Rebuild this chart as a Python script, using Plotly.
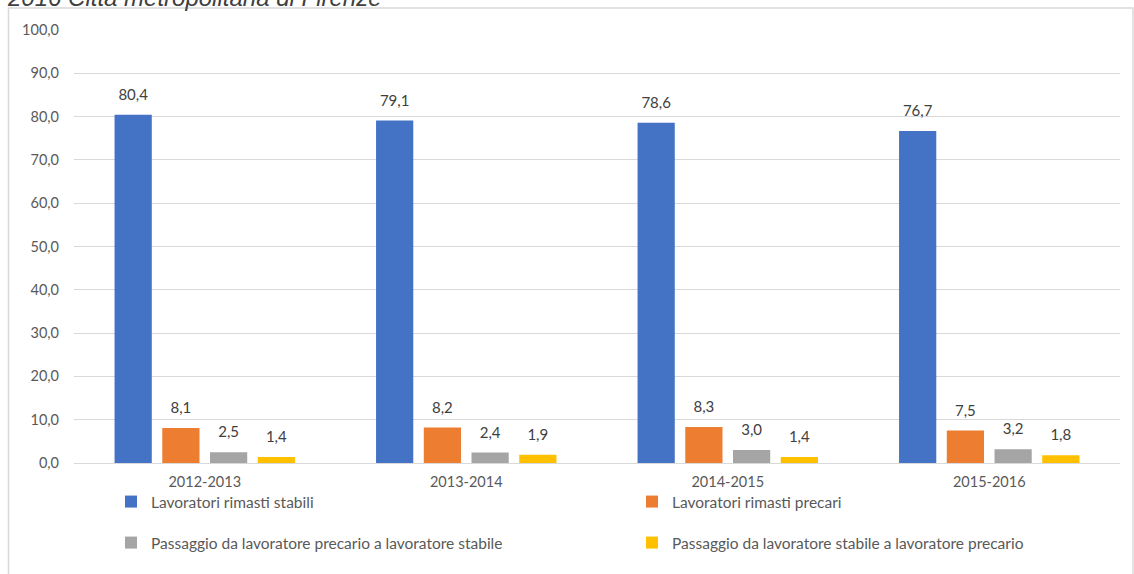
import plotly.graph_objects as go

periods = ["2012-2013", "2013-2014", "2014-2015", "2015-2016"]
series_names = [
    "Lavoratori rimasti stabili",
    "Lavoratori rimasti precari",
    "Passaggio da lavoratore precario a lavoratore stabile",
    "Passaggio da lavoratore stabile a lavoratore precario",
]
stabili = [80.4, 79.1, 78.6, 76.7]
precari = [8.1, 8.2, 8.3, 7.5]
prec_to_stab = [2.5, 2.4, 3.0, 3.2]
stab_to_prec = [1.4, 1.9, 1.4, 1.8]
colors = ["#4472C4", "#ED7D31", "#A5A5A5", "#FFC000"]
legend_ids = ["legend", "legend", "legend2", "legend2"]
y_ticks = [0, 10, 20, 30, 40, 50, 60, 70, 80, 90, 100]
title_text = "2016 Città metropolitana di Firenze"

FONT = "Lato, 'Liberation Sans', sans-serif"
W, H = 1134, 574
L, R, T, B = 74, 14, 30, 111
pw, ph = W - L - R, H - T - B
BARGAP = 0.27

fig = go.Figure()
all_vals = [stabili, precari, prec_to_stab, stab_to_prec]
for name, vals, col, lg in zip(series_names, all_vals, colors, legend_ids):
    fig.add_trace(go.Bar(
        x=periods, y=vals, name=name, marker=dict(color=col, line=dict(width=0)),
        legend=lg, hoverinfo="x+y+name",
    ))
# data labels, grouped like the bars
for name, vals in zip(series_names, all_vals):
    fig.add_trace(go.Scatter(
        x=periods, y=vals, mode="markers+text", orientation="v",
        texttemplate="%{y:.1f}", textposition="top center", cliponaxis=False,
        textfont=dict(family=FONT, size=15, color="#404040"),
        marker=dict(size=16, color="rgba(0,0,0,0)"),
        showlegend=False, hoverinfo="skip", name=name,
    ))

def px_x(p):
    return (p - L) / pw

def px_y(p):
    return (H - B - p) / ph

leg_common = dict(orientation="h", x=px_x(111), xanchor="left", yanchor="middle",
                  entrywidth=476, entrywidthmode="pixels", borderwidth=0,
                  font=dict(family=FONT, size=15.5, color="#595959"),
                  bgcolor="rgba(0,0,0,0)", itemclick=False, itemdoubleclick=False)

fig.update_layout(
    width=W, height=H,
    margin=dict(l=L, r=R, t=T, b=B, autoexpand=False),
    paper_bgcolor="white", plot_bgcolor="white",
    separators=",.",
    barmode="group", bargap=BARGAP, bargroupgap=0.22,
    scattermode="group", scattergap=BARGAP,
    font=dict(family=FONT, color="#595959", size=14),
    xaxis=dict(showgrid=False, showline=True, linecolor="#D9D9D9", linewidth=1,
               ticks="", tickfont=dict(size=14.5, color="#595959"), ticklabelstandoff=6),
    yaxis=dict(range=[0, 100], tickvals=y_ticks, tickformat=".1f", showgrid=True,
               gridcolor="#D9D9D9", gridwidth=1, zeroline=False, showline=False,
               ticks="", tickfont=dict(size=14.5, color="#595959"), ticklabelstandoff=14),
    legend=dict(y=px_y(502), **leg_common),
    legend2=dict(y=px_y(543), **leg_common),
    shapes=[dict(type="rect", xref="paper", yref="paper",
                 x0=px_x(8.5), x1=px_x(1133), y0=px_y(600), y1=px_y(8),
                 line=dict(color="#D9D9D9", width=1.5), fillcolor="rgba(0,0,0,0)", layer="below")],
    annotations=[dict(text="<i>" + title_text + "</i>", xref="paper", yref="paper",
                      x=px_x(5), y=px_y(13), xanchor="left", yanchor="bottom", showarrow=False,
                      font=dict(family="'Liberation Sans', Arial, sans-serif", size=24, color="#404040"))],
)

fig.write_html("out.html", config={"displayModeBar": False},
               post_script="document.body.style.margin='0';document.body.style.overflow='hidden';")
